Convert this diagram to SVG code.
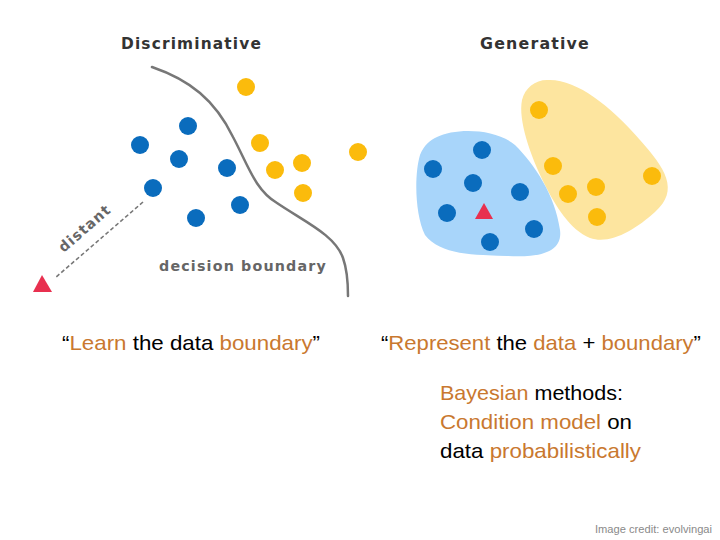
<svg xmlns="http://www.w3.org/2000/svg" width="720" height="540" viewBox="0 0 720 540">
<style>
.title{font-family:"DejaVu Sans",sans-serif;font-weight:bold;font-size:16px;fill:#333;letter-spacing:1.2px}
.lbl{font-family:"DejaVu Sans",sans-serif;font-weight:bold;font-size:14.5px;fill:#666;letter-spacing:1.2px}
.b{fill:#0a6cbd}
.y{fill:#fbbb0c}
.tri{fill:#e8304f}
.cap{font-family:"Liberation Sans",sans-serif;font-size:21px;fill:#000}
.o{fill:#c9782f}
.credit{font-family:"Liberation Sans",sans-serif;font-size:11px;fill:#8a8a8a}
</style>
<rect width="720" height="540" fill="#fff"/>
<g id="discriminative">
<text class="title" x="121" y="49" textLength="141" lengthAdjust="spacingAndGlyphs">Discriminative</text>
<path d="M152 67 C190 80 215 100 233 137 C248 165 255 190 277 203 C305 222 335 235 343 258 C348 272 348 285 348 296" fill="none" stroke="#777" stroke-width="2.5" stroke-linecap="round"/>
<line x1="143" y1="202" x2="55" y2="278" stroke="#777" stroke-width="1.6" stroke-dasharray="4 2.5"/>
<text class="lbl" transform="translate(88 232) rotate(-41)" text-anchor="middle" font-size="16" textLength="64" lengthAdjust="spacingAndGlyphs">distant</text>
<text class="lbl" x="159" y="271" textLength="168" lengthAdjust="spacingAndGlyphs">decision boundary</text>
<polygon class="tri" points="42,275 33,292 52,292"/>
<circle class="y" cx="246" cy="87" r="9"/>
<circle class="y" cx="260" cy="143" r="9"/>
<circle class="y" cx="358" cy="152" r="9"/>
<circle class="y" cx="275" cy="170" r="9"/>
<circle class="y" cx="302" cy="163" r="9"/>
<circle class="y" cx="303" cy="193" r="9"/>
<circle class="b" cx="188" cy="126" r="9"/>
<circle class="b" cx="140" cy="145" r="9"/>
<circle class="b" cx="179" cy="159" r="9"/>
<circle class="b" cx="227" cy="168" r="9"/>
<circle class="b" cx="153" cy="188" r="9"/>
<circle class="b" cx="240" cy="205" r="9"/>
<circle class="b" cx="196" cy="218" r="9"/>
</g>
<g id="generative">
<text class="title" x="480" y="49" textLength="110" lengthAdjust="spacingAndGlyphs">Generative</text>
<path d="M547 80 C575 78 610 105 640 140 C665 168 680 190 655 212 C635 230 610 245 590 238 C570 230 555 205 545 185 C530 155 518 120 522 100 C525 88 535 80 547 80 Z" fill="#fde59f"/>
<path d="M437 137 C455 128 495 128 515 145 C535 165 555 195 560 230 C563 252 540 258 507 256 C475 255 440 255 425 235 C415 215 414 175 420 155 C424 145 430 140 437 137 Z" fill="#a8d5fa"/>
<circle class="b" cx="482" cy="150" r="9"/>
<circle class="b" cx="433" cy="169" r="9"/>
<circle class="b" cx="473" cy="183" r="9"/>
<circle class="b" cx="520" cy="192" r="9"/>
<circle class="b" cx="447" cy="213" r="9"/>
<circle class="b" cx="534" cy="229" r="9"/>
<circle class="b" cx="490" cy="242" r="9"/>
<polygon class="tri" points="484,203 475,219 493,219"/>
<circle class="y" cx="539" cy="110" r="9"/>
<circle class="y" cx="553" cy="166" r="9"/>
<circle class="y" cx="652" cy="176" r="9"/>
<circle class="y" cx="596" cy="187" r="9"/>
<circle class="y" cx="568" cy="194" r="9"/>
<circle class="y" cx="597" cy="217" r="9"/>
</g>
<g id="captions">
<text class="cap" x="62" y="350" textLength="258" lengthAdjust="spacingAndGlyphs">“<tspan class="o">Learn</tspan> the data <tspan class="o">boundary</tspan>”</text>
<text class="cap" x="381" y="350" textLength="320" lengthAdjust="spacingAndGlyphs">“<tspan class="o">Represent</tspan> the <tspan class="o">data</tspan> + <tspan class="o">boundary</tspan>”</text>
<text class="cap" x="440" y="400" textLength="183" lengthAdjust="spacingAndGlyphs"><tspan class="o">Bayesian</tspan> methods:</text>
<text class="cap" x="440" y="429" textLength="192" lengthAdjust="spacingAndGlyphs"><tspan class="o">Condition model</tspan> on</text>
<text class="cap" x="440" y="458" textLength="201" lengthAdjust="spacingAndGlyphs">data <tspan class="o">probabilistically</tspan></text>
<text class="credit" x="595" y="533" textLength="117" lengthAdjust="spacingAndGlyphs">Image credit: evolvingai</text>
</g>
</svg>
